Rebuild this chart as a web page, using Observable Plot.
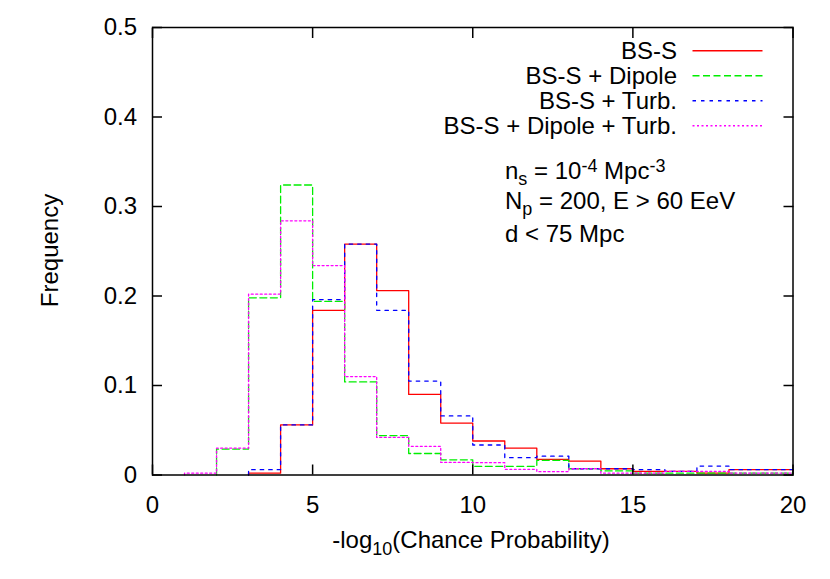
<!DOCTYPE html>
<html><head><meta charset="utf-8">
<script src="https://cdn.jsdelivr.net/npm/d3@7"></script>
<script src="https://cdn.jsdelivr.net/npm/@observablehq/plot@0.6"></script>
<style>
body{margin:0;background:#fff;}
#chart{width:830px;height:579px;}
</style></head><body><div id="chart"></div>
<script>
// Histogram bins: left edges, width 1
const binLeft = [1,2,3,4,5,6,7,8,9,10,11,12,13,14,15,16,17,18,19];
const binWidth = 1;

// Frequencies per bin (null = no entry)
const bsS          = [null, null, 0.002, 0.056, 0.184, 0.258, 0.206, 0.090, 0.058, 0.038, 0.030, 0.0175, 0.0156, 0.007, 0.004, 0.004, 0.002, 0.006, 0.006];
const bsSDipole    = [null, 0.029, 0.198, 0.324, 0.194, 0.104, 0.044, 0.024, 0.017, 0.0097, 0.0097, 0.0164, 0.007, 0.0045, 0.002, 0.002, 0.002, 0.002, 0.002];
const bsSTurb      = [null, null, 0.006, 0.056, 0.196, 0.258, 0.184, 0.105, 0.066, 0.0335, 0.0194, 0.021, 0.007, 0.007, 0.006, 0.004, 0.010, 0.006, 0.006];
const bsSDipTurb   = [0.002, 0.030, 0.202, 0.284, 0.234, 0.110, 0.042, 0.032, 0.014, 0.0138, 0.0063, 0.0037, 0.007, 0.002, 0.002, 0.004, 0.004, 0.002, 0.002];

const seriesNames  = ["BS-S", "BS-S + Dipole", "BS-S + Turb.", "BS-S + Dipole + Turb."];
const seriesValues = [bsS, bsSDipole, bsSTurb, bsSDipTurb];
const seriesColors = ["#ff0000", "#00ee00", "#0000ff", "#ff00ff"];
const seriesDash   = [null, "7,3.5", "3.5,5", "2,2.5"];

const xTicks = [0, 5, 10, 15, 20];
const xTickLabels = ["0", "5", "10", "15", "20"];
const yTicks = [0, 0.1, 0.2, 0.3, 0.4, 0.5];
const yTickLabels = ["0", "0.1", "0.2", "0.3", "0.4", "0.5"];

const FONT = "'Liberation Sans', Arial, Helvetica, sans-serif";

function stepPoints(vals, name) {
  const i0 = vals.findIndex(v => v != null);
  const pts = [{x: binLeft[i0], y: 0, s: name}];
  let last = 0, lastI = i0;
  for (let i = i0; i < vals.length; i++) {
    if (vals[i] == null) continue;
    pts.push({x: binLeft[i], y: vals[i], s: name});
    last = vals[i]; lastI = i;
  }
  pts.push({x: binLeft[lastI] + binWidth, y: last, s: name});
  return pts;
}

const lineMarks = seriesNames.map((n, k) =>
  Plot.line(stepPoints(seriesValues[k], n), {
    x: "x", y: "y", curve: "step-after",
    stroke: seriesColors[k], strokeWidth: 1.3,
    strokeDasharray: seriesDash[k] || undefined
  })
);

const svg = Plot.plot({
  width: 830, height: 579,
  marginLeft: 152, marginRight: 37.5, marginTop: 27, marginBottom: 104.5,
  style: {fontFamily: FONT, fontSize: "24px", background: "#fff", color: "#000"},
  x: {domain: [0, 20]},
  y: {domain: [0, 0.5]},
  marks: [
    ...lineMarks,
    Plot.frame({stroke: "#000", strokeWidth: 1.5}),
    Plot.axisX({ticks: xTicks, tickFormat: d => xTickLabels[xTicks.indexOf(d)], tickSize: 0, tickPadding: 20.5, label: null, fontSize: 24}),
    Plot.axisX({ticks: xTicks, anchor: "bottom", tickSize: -10, fill: "none", label: null, strokeWidth: 1.5}),
    Plot.axisX({ticks: xTicks, anchor: "top", tickSize: -10, fill: "none", label: null, strokeWidth: 1.5}),
    Plot.axisY({ticks: yTicks, tickFormat: d => yTickLabels[yTicks.indexOf(d)], tickSize: 0, tickPadding: 15.5, label: null, fontSize: 24}),
    Plot.axisY({ticks: yTicks, anchor: "left", tickSize: -10, fill: "none", label: null, strokeWidth: 1.5}),
    Plot.axisY({ticks: yTicks, anchor: "right", tickSize: -10, fill: "none", label: null, strokeWidth: 1.5})
  ]
});

document.getElementById("chart").appendChild(svg);

const s = d3.select(svg);
const g = s.append("g").attr("font-family", FONT).attr("font-size", 24).attr("fill", "#000").attr("text-anchor", "start");

// Axis labels
const xl = g.append("text").attr("x", 471).attr("y", 548).attr("text-anchor", "middle");
xl.append("tspan").text("-log");
xl.append("tspan").attr("font-size", 18).attr("dy", 7).text("10");
xl.append("tspan").attr("dy", -7).text("(Chance Probability)");

g.append("text").attr("transform", "translate(58,250.5) rotate(-90)")
  .attr("text-anchor", "middle").text("Frequency");

// Legend
const legTextX = 677, legLineX1 = 692.5, legLineX2 = 762.5;
const legY = [50.5, 75.5, 100.5, 125.5];
seriesNames.forEach((n, k) => {
  g.append("text").attr("x", legTextX).attr("y", legY[k] + 8.5).attr("text-anchor", "end").text(n);
  g.append("line").attr("x1", legLineX1).attr("x2", legLineX2)
    .attr("y1", legY[k] + 0.3).attr("y2", legY[k] + 0.3)
    .attr("stroke", seriesColors[k]).attr("stroke-width", 1.4)
    .attr("stroke-dasharray", seriesDash[k]);
});

// Annotation
const ax = 505;
const t1 = g.append("text").attr("x", ax).attr("y", 178.5).attr("text-anchor", "start");
t1.append("tspan").text("n");
t1.append("tspan").attr("font-size", 18).attr("dy", 6.5).text("s");
t1.append("tspan").attr("dy", -6.5).text(" = 10");
t1.append("tspan").attr("font-size", 18).attr("dy", -7).text("-4");
t1.append("tspan").attr("dy", 7).text(" Mpc");
t1.append("tspan").attr("font-size", 18).attr("dy", -7).text("-3");

const t2 = g.append("text").attr("x", ax).attr("y", 208.5).attr("text-anchor", "start");
t2.append("tspan").text("N");
t2.append("tspan").attr("font-size", 18).attr("dy", 6.5).text("p");
t2.append("tspan").attr("dy", -6.5).text(" = 200, E > 60 EeV");

g.append("text").attr("x", ax).attr("y", 241.5).attr("text-anchor", "start").text("d < 75 Mpc");
</script>
</body></html>
